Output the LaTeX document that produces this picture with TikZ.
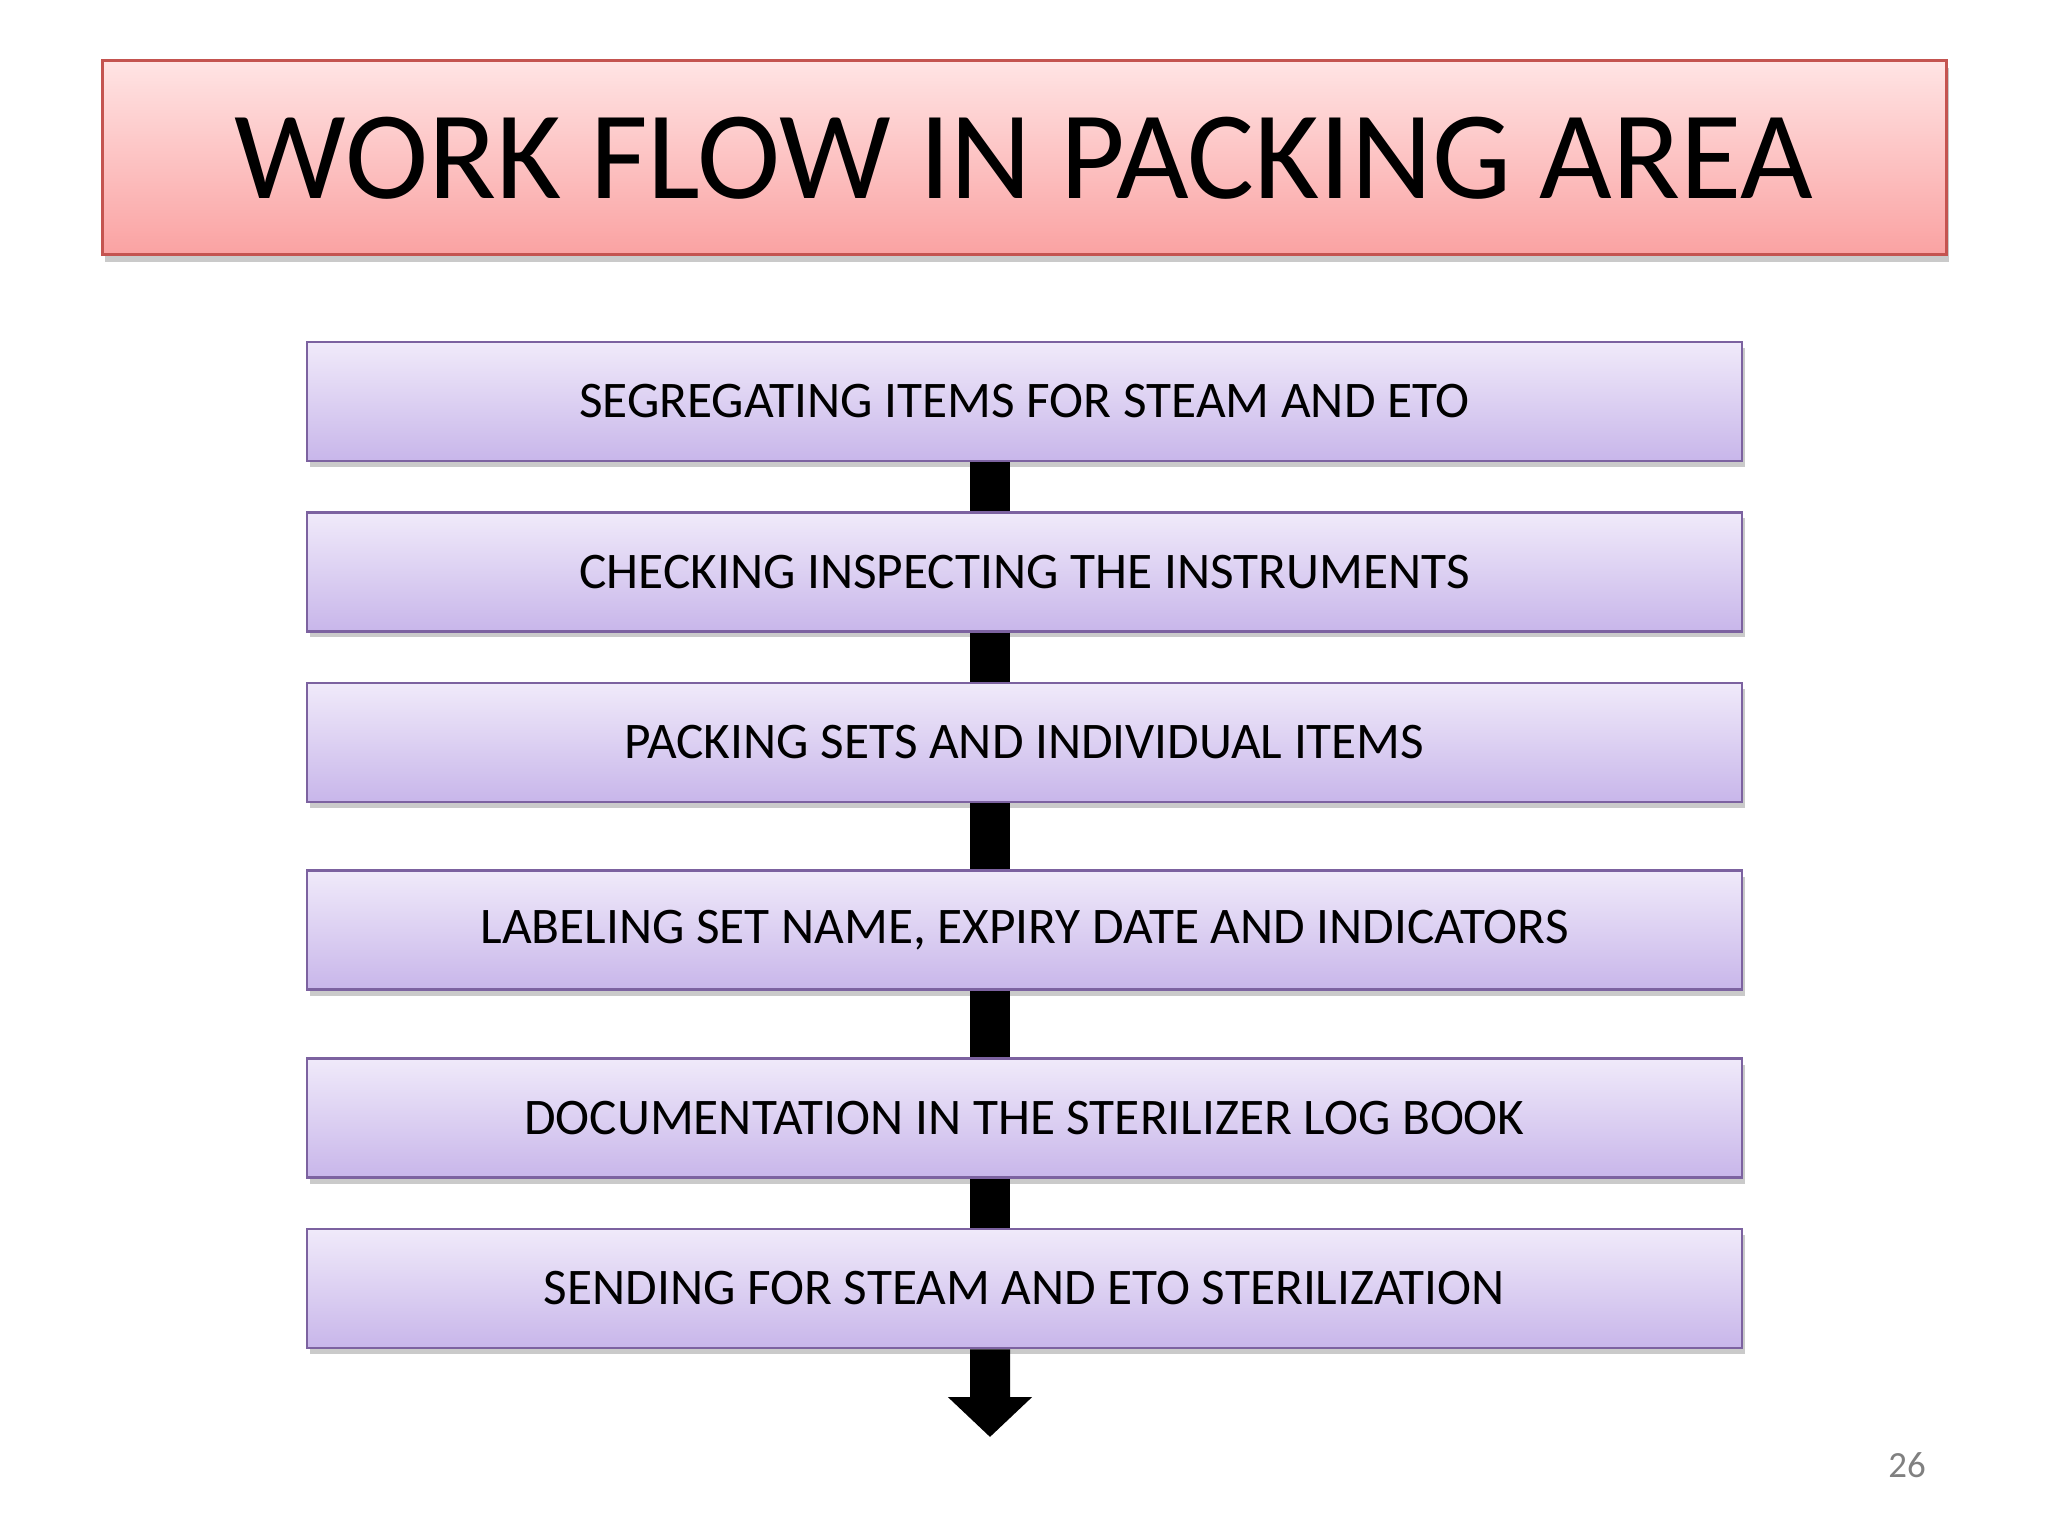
\documentclass[tikz,border=0pt]{standalone}
\usepackage{fontspec}
\setmainfont{Carlito}
\usetikzlibrary{arrows.meta, shadows, positioning}
\definecolor{titleTop}{RGB}{255,228,228}
\definecolor{titleBot}{RGB}{250,162,162}
\definecolor{titleLine}{RGB}{196,84,80}
\definecolor{stepTop}{RGB}{240,234,250}
\definecolor{stepBot}{RGB}{200,182,234}
\definecolor{stepLine}{RGB}{124,98,160}
\definecolor{pageNo}{RGB}{128,128,128}

\begin{document}
\begin{tikzpicture}[
    titlebox/.style={draw=titleLine, line width=0.3mm, top color=titleTop, bottom color=titleBot,
      minimum width=18.44cm, minimum height=1.94cm, inner sep=0pt,
      font=\fontsize{35.7}{40}\selectfont,
      drop shadow={shadow xshift=0.3mm, shadow yshift=-0.7mm, opacity=0.35, fill=black!60}},
    stepbox/.style={draw=stepLine, line width=0.25mm, top color=stepTop, bottom color=stepBot,
      minimum width=14.35cm, minimum height=1.19cm, inner sep=0pt,
      font=\fontsize{14.6}{17}\selectfont,
      drop shadow={shadow xshift=0.3mm, shadow yshift=-0.6mm, opacity=0.35, fill=black!60}},
    link/.style={line width=4mm, black}
  ]
    \useasboundingbox (0,0) rectangle (20.48,-15.36);

    % Title
    \node[titlebox] (title) at (10.24,-1.58) {WORK FLOW IN PACKING AREA};

    % Steps
    \node[stepbox] (segregate) at (10.245,-4.015)  {SEGREGATING ITEMS FOR STEAM AND ETO};
    \node[stepbox] (check)     at (10.245,-5.72)   {CHECKING INSPECTING THE INSTRUMENTS};
    \node[stepbox] (pack)      at (10.245,-7.425)  {PACKING SETS AND INDIVIDUAL ITEMS};
    \node[stepbox] (label)     at (10.245,-9.30)   {LABELING SET NAME, EXPIRY DATE AND INDICATORS};
    \node[stepbox] (document)  at (10.245,-11.18)  {DOCUMENTATION IN THE STERILIZER LOG BOOK};
    \node[stepbox] (send)      at (10.245,-12.885) {SENDING FOR STEAM AND ETO STERILIZATION};

    % Connectors
    \coordinate (out) at (9.90,-14.37);
    \draw[link] ([xshift=-3.45mm]segregate.south) -- ([xshift=-3.45mm]check.north);
    \draw[link] ([xshift=-3.45mm]check.south)     -- ([xshift=-3.45mm]pack.north);
    \draw[link] ([xshift=-3.45mm]pack.south)      -- ([xshift=-3.45mm]label.north);
    \draw[link] ([xshift=-3.45mm]label.south)     -- ([xshift=-3.45mm]document.north);
    \draw[link] ([xshift=-3.45mm]document.south)  -- ([xshift=-3.45mm]send.north);
    \draw[link, -{Triangle[width=8.2mm, length=4mm]}] ([xshift=-3.45mm]send.south) -- (out);

    % Page number
    \node[text=pageNo, font=\fontsize{10.5}{12}\selectfont] (page) at (19.07,-14.65) {26};
  \end{tikzpicture}
\end{document}
